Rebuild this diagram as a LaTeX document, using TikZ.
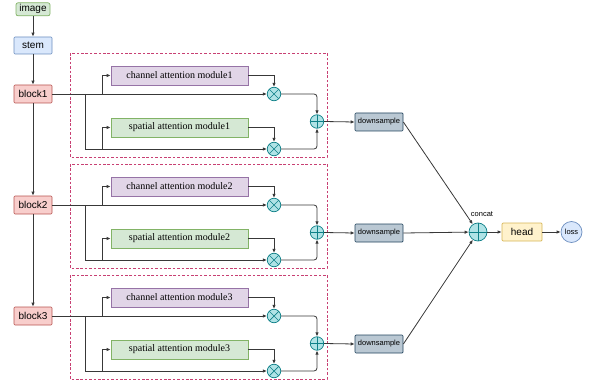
\documentclass[tikz,border=0pt]{standalone}
\usepackage{fontspec}
\setmainfont{Liberation Serif}
\setsansfont{Liberation Sans}
\usetikzlibrary{arrows.meta}
\definecolor{gfill}{HTML}{D5E8D4}\definecolor{gline}{HTML}{82B366}
\definecolor{bfill}{HTML}{DAE8FC}\definecolor{bline}{HTML}{6C8EBF}
\definecolor{rfill}{HTML}{F8CECC}\definecolor{rline}{HTML}{B85450}
\definecolor{pfill}{HTML}{E1D5E7}\definecolor{pline}{HTML}{9673A6}
\definecolor{yfill}{HTML}{FFF2CC}\definecolor{yline}{HTML}{D6B656}
\definecolor{dfill}{HTML}{BAC8D3}\definecolor{dline}{HTML}{23445D}
\definecolor{tfill}{HTML}{B0E3E6}\definecolor{tline}{HTML}{0E8088}
\definecolor{frame}{RGB}{200,64,115}
\begin{document}
\begin{tikzpicture}[x=1pt,y=-1pt,
  ln/.style={draw=black!78, line width=0.8pt},
  conn/.style={ln, -{Latex[length=4pt,width=3.5pt]}},
  sbox/.style={draw, line width=0.7pt, inner sep=0pt, rounded corners=1pt, font=\sffamily\fontsize{10}{12}\selectfont},
  imgbox/.style={sbox, fill=gfill, draw=gline, minimum width=34, minimum height=13, rounded corners=2pt},
  stembox/.style={sbox, fill=bfill, draw=bline, minimum width=38, minimum height=17},
  blkbox/.style={sbox, fill=rfill, draw=rline, minimum width=38, minimum height=18},
  modbox/.style={draw, line width=0.7pt, inner sep=0pt, minimum width=137, minimum height=19, font=\rmfamily\fontsize{10}{12}\selectfont},
  chbox/.style={modbox, fill=pfill, draw=pline},
  spbox/.style={modbox, fill=gfill, draw=gline},
  dsbox/.style={sbox, fill=dfill, draw=dline, minimum width=48, minimum height=18, font=\sffamily\fontsize{7.5}{9}\selectfont},
  headbox/.style={sbox, fill=yfill, draw=yline, minimum width=40, minimum height=18},
  crc/.style={circle, draw=tline, fill=tfill, line width=0.7pt, inner sep=0pt, minimum size=13.5},
  otimesnode/.style={crc, path picture={\draw[tline, line width=0.7pt] (path picture bounding box.north west) -- (path picture bounding box.south east) (path picture bounding box.north east) -- (path picture bounding box.south west);}},
  oplusnode/.style={crc, path picture={\draw[tline, line width=0.7pt] (path picture bounding box.north) -- (path picture bounding box.south) (path picture bounding box.west) -- (path picture bounding box.east);}},
  framebox/.style={draw=frame, line width=0.8pt, dash pattern=on 2.6pt off 1.8pt},
  smalltext/.style={inner sep=0pt, font=\sffamily\fontsize{7.5}{9}\selectfont}
]
\useasboundingbox (0,0) rectangle (589,385);

\node[imgbox] (img) at (33,9.3) {image};
\node[stembox] (stem) at (33,45.5) {stem};

\node[oplusnode, minimum size=18] (concat) at (478,232) {};
\node[smalltext] (concatlbl) at (482,214) {concat};
\node[headbox] (head) at (522,232) {head};
\node[smalltext, circle, draw=bline, fill=bfill, line width=0.7pt, minimum size=21] (loss) at (571.5,232) {loss};

\foreach \k/\o in {1/0,2/111,3/222}{
  \draw[framebox] (70,53+\o) rectangle (327,157+\o);
  \node[blkbox] (blk\k) at (33,94+\o) {block\k};
  \node[chbox] (cam\k) at (179.5,75.5+\o) {channel attention module\k};
  \node[spbox] (sam\k) at (179.5,127.5+\o) {spatial attention module\k};
  \node[otimesnode] (ota\k) at (274,94+\o) {};
  \node[otimesnode] (otb\k) at (274,149+\o) {};
  \node[oplusnode] (op\k) at (317,121.5+\o) {};
  \node[dsbox] (ds\k) at (379,122+\o) {downsample};
  \coordinate (sa\k) at (85,94+\o);
  \coordinate (sb\k) at (102,94+\o);
  \coordinate (sc\k) at (102,149+\o);
  \draw[conn] (blk\k.east) -- (ota\k.west);
  \draw[conn] (sb\k) |- (cam\k.west);
  \draw[conn] (sa\k) |- (otb\k.west);
  \draw[conn] (sc\k) |- (sam\k.west);
  \draw[conn] (cam\k.east) -| (ota\k.north);
  \draw[conn] (sam\k.east) -| (otb\k.north);
  \draw[conn, rounded corners=3pt] (ota\k.east) -| (op\k.north);
  \draw[conn, rounded corners=3pt] (otb\k.east) -| (op\k.south);
  \draw[conn] (op\k.east) -- (ds\k.west);
  \draw[conn] (ds\k.east) -- (concat);
}

\draw[conn] (img) -- (stem);
\draw[conn] (stem) -- (blk1);
\draw[conn] (blk1) -- (blk2);
\draw[conn] (blk2) -- (blk3);
\draw[conn] (concat) -- (head);
\draw[conn] (head) -- (loss);
\end{tikzpicture}
\end{document}
